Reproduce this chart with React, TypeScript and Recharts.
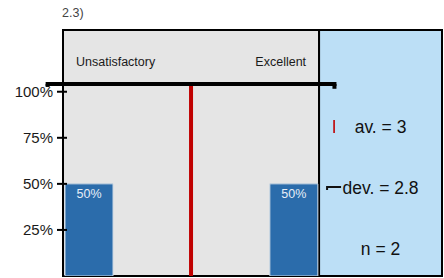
import React from 'react'
import {
  ComposedChart,
  Bar,
  XAxis,
  YAxis,
  ReferenceArea,
  ReferenceLine,
  LabelList,
} from 'recharts'

// rating scale 1..5, share of answers per step
const categories = [1, 2, 3, 4, 5]
const shares = [50, 0, 0, 0, 50]
const yTicks = [25, 50, 75, 100]
const scaleLabels = ['Unsatisfactory', 'Excellent']
const title = '2.3)'
const average = 3
const deviation = 2.8
const count = 2

const data = categories.map((c, i) => ({ x: c, pct: shares[i] }))

const FONT = '"Liberation Sans", Arial, Helvetica, sans-serif'
const Y_MAX = 133.5
const DEV_Y = 104.2
const X_MIN = 0.5
const X_MAX = 7.9
// one step of the scale is ~51px, so tick marks stick out 6px left / 4px right
const TICK_OUT = 6 / 51.2
const TICK_IN = 4 / 51.2

function YTick(props: any) {
  const { x, y, payload } = props
  return (
    <text
      x={x - 2}
      y={y}
      textAnchor="end"
      dominantBaseline="central"
      fontSize={15}
      fill="#1a1a1a"
      fontFamily={FONT}
    >
      {`${payload.value}%`}
    </text>
  )
}

function BarValue(props: any) {
  const { x, y, width, value } = props
  if (!value) return null
  return (
    <text
      x={x + width / 2}
      y={y + 10}
      textAnchor="middle"
      dominantBaseline="central"
      fontSize={12.5}
      fill="#e6eef8"
      fontFamily={FONT}
    >
      {`${value}%`}
    </text>
  )
}

function ScaleLabels(props: any) {
  const vb = props.viewBox
  if (!vb) return null
  return (
    <g fontFamily={FONT} fontSize={12.5} fill="#1a1a1a">
      <text x={vb.x + 13} y={vb.y + 32} dominantBaseline="central">
        {scaleLabels[0]}
      </text>
      <text x={vb.x + vb.width - 13} y={vb.y + 32} textAnchor="end" dominantBaseline="central">
        {scaleLabels[1]}
      </text>
    </g>
  )
}

function StatsLegend(props: any) {
  const vb = props.viewBox
  if (!vb) return null
  const cx = vb.x + vb.width / 2
  const yAv = vb.y + 97
  const yDev = vb.y + 158
  const yN = vb.y + 219
  return (
    <g fontFamily={FONT} fontSize={17.5} fill="#111">
      <line x1={vb.x + 15} x2={vb.x + 15} y1={yAv - 7} y2={yAv + 6} stroke="#c00000" strokeWidth={1.6} />
      <text x={cx} y={yAv} textAnchor="middle" dominantBaseline="central">
        {`av. = ${average}`}
      </text>
      <polyline
        points={`${vb.x + 8},${yDev + 2} ${vb.x + 8},${yDev - 1} ${vb.x + 22},${yDev - 1}`}
        fill="none"
        stroke="#111"
        strokeWidth={2}
      />
      <text x={cx} y={yDev} textAnchor="middle" dominantBaseline="central">
        {`dev. = ${deviation}`}
      </text>
      <text x={cx} y={yN} textAnchor="middle" dominantBaseline="central">
        {`n = ${count}`}
      </text>
    </g>
  )
}

export default function App() {
  return (
    <div
      style={{
        position: 'absolute',
        left: 0,
        top: 0,
        width: 444,
        height: 278,
        background: '#fff',
        fontFamily: FONT,
      }}
    >
      <div
        style={{
          position: 'absolute',
          left: 62,
          top: 6,
          fontSize: 12.5,
          color: '#444',
        }}
      >
        {title}
      </div>
      <ComposedChart
        width={444}
        height={278}
        data={data}
        margin={{ top: 30, right: 2, bottom: 2, left: 0 }}
      >
        <XAxis
          dataKey="x"
          type="number"
          domain={[X_MIN, X_MAX]}
          allowDataOverflow
          hide
        />
        <YAxis
          type="number"
          domain={[0, Y_MAX]}
          ticks={yTicks}
          width={63}
          tickLine={false}
          axisLine={{ stroke: '#000', strokeWidth: 2 }}
          tick={<YTick />}
          allowDataOverflow
        />
        <ReferenceArea
          x1={X_MIN}
          x2={5.5}
          y1={0}
          y2={Y_MAX}
          fill="#e5e5e5"
          fillOpacity={1}
          stroke="#000"
          strokeWidth={2}
          label={<ScaleLabels />}
        />
        <ReferenceArea
          x1={5.5}
          x2={X_MAX}
          y1={0}
          y2={Y_MAX}
          fill="#bcdff6"
          fillOpacity={1}
          stroke="#000"
          strokeWidth={2}
          label={<StatsLegend />}
        />
        {yTicks.map((t) => (
          <ReferenceLine
            key={t}
            segment={[
              { x: X_MIN - TICK_OUT, y: t },
              { x: X_MIN + TICK_IN, y: t },
            ]}
            stroke="#000"
            strokeWidth={2}
            ifOverflow="visible"
          />
        ))}
        <Bar
          dataKey="pct"
          barSize={48}
          fill="#2b6cab"
          stroke="#c9d6e3"
          strokeWidth={1}
          isAnimationActive={false}
        >
          <LabelList dataKey="pct" content={<BarValue />} />
        </Bar>
        <ReferenceLine
          segment={[
            { x: average, y: 0 },
            { x: average, y: DEV_Y },
          ]}
          stroke="#c00000"
          strokeWidth={4}
          ifOverflow="visible"
        />
        <ReferenceLine
          segment={[
            { x: average - deviation, y: DEV_Y },
            { x: average + deviation, y: DEV_Y },
          ]}
          stroke="#000"
          strokeWidth={4}
          strokeLinecap="square"
          ifOverflow="visible"
        />
        <ReferenceLine
          segment={[
            { x: average - deviation, y: DEV_Y },
            { x: average - deviation, y: DEV_Y - 1.6 },
          ]}
          stroke="#000"
          strokeWidth={4}
          ifOverflow="visible"
        />
        <ReferenceLine
          segment={[
            { x: average + deviation, y: DEV_Y },
            { x: average + deviation, y: DEV_Y - 2.6 },
          ]}
          stroke="#000"
          strokeWidth={4}
          ifOverflow="visible"
        />
      </ComposedChart>
    </div>
  )
}
